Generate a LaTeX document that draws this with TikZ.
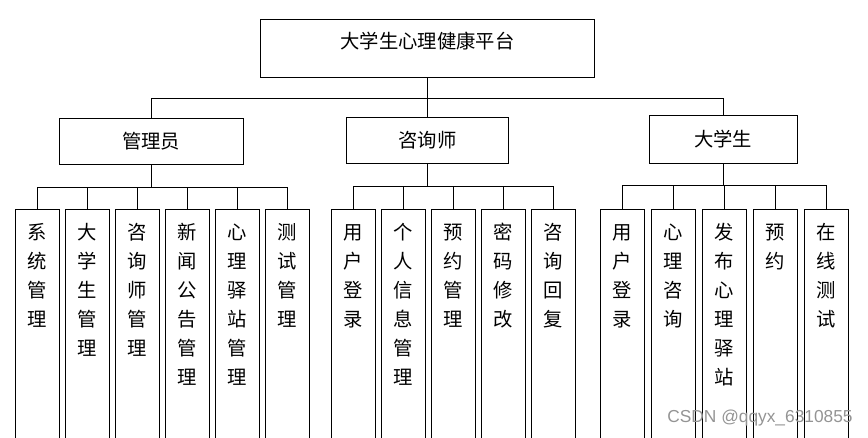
\documentclass[tikz,border=0pt]{standalone}
\usepackage{fontspec}
\newfontfamily\cjk{Noto Sans CJK SC}
\newfontfamily\marksans{Liberation Sans}
\usetikzlibrary{positioning}

\begin{document}
\begin{tikzpicture}[
    x=0.75pt, y=-0.75pt,
    line width=0.75pt,
    box/.style={draw, inner sep=0pt,
                font=\cjk\fontsize{14.5}{21.75}\selectfont},
    rootbox/.style={box, minimum width=251pt, text height=22pt, text depth=22pt},
    rolebox/.style={box, minimum height=34.5pt},
    leaf/.style={box, anchor=north, align=center, text width=33pt,
                 text height=22.5pt, text depth=160pt},
    node distance=3.75pt
  ]
  \useasboundingbox (0,0) rectangle (868,437);
  \clip (0,0) rectangle (868,437);

  \node[rootbox] (root) at (427.5,48.5) {大学生心理健康平台};

  \node[rolebox, minimum width=138pt] (admin) at (151,141) {管理员};
  \node[rolebox, minimum width=121pt] (coun) at (427.5,140) {咨询师};
  \node[rolebox, minimum width=111pt, minimum height=36pt] (stu) at (723,139) {大学生};

  % admin functions
  \node[leaf] (a1) at (37.5,209) {系\\统\\管\\理};
  \node[leaf, right=of a1.north east, anchor=north west] (a2) {大\\学\\生\\管\\理};
  \node[leaf, right=of a2.north east, anchor=north west] (a3) {咨\\询\\师\\管\\理};
  \node[leaf, right=of a3.north east, anchor=north west] (a4) {新\\闻\\公\\告\\管\\理};
  \node[leaf, right=of a4.north east, anchor=north west] (a5) {心\\理\\驿\\站\\管\\理};
  \node[leaf, right=of a5.north east, anchor=north west] (a6) {测\\试\\管\\理};

  % counselor functions
  \node[leaf] (c1) at (353,209) {用\\户\\登\\录};
  \node[leaf, right=of c1.north east, anchor=north west] (c2) {个\\人\\信\\息\\管\\理};
  \node[leaf, right=of c2.north east, anchor=north west] (c3) {预\\约\\管\\理};
  \node[leaf, right=of c3.north east, anchor=north west] (c4) {密\\码\\修\\改};
  \node[leaf, right=of c4.north east, anchor=north west] (c5) {咨\\询\\回\\复};

  % student functions
  \node[leaf] (s1) at (622.5,209) {用\\户\\登\\录};
  \node[leaf, right=4.5pt of s1.north east, anchor=north west] (s2) {心\\理\\咨\\询};
  \node[leaf, right=4.5pt of s2.north east, anchor=north west] (s3) {发\\布\\心\\理\\驿\\站};
  \node[leaf, right=4.5pt of s3.north east, anchor=north west] (s4) {预\\约};
  \node[leaf, right=4.5pt of s4.north east, anchor=north west] (s5) {在\\线\\测\\试};

  \foreach \n in {admin,coun,stu}
    \draw (root.south) -- ++(0,20) -| (\n.north);
  \foreach \n in {a1,a2,a3,a4,a5,a6}
    \draw (admin.south) -- ++(0,23) -| (\n.north);
  \foreach \n in {c1,c2,c3,c4,c5}
    \draw (coun.south) -- ++(0,23) -| (\n.north);
  \foreach \n in {s1,s2,s3,s4,s5}
    \draw (stu.south) -- ++(0,22) -| (\n.north);

  \node[font=\marksans\fontsize{13}{15}\selectfont, text=black!42] (mark)
    at (760,418) {CSDN @qqyx\_6310855};
\end{tikzpicture}
\end{document}
